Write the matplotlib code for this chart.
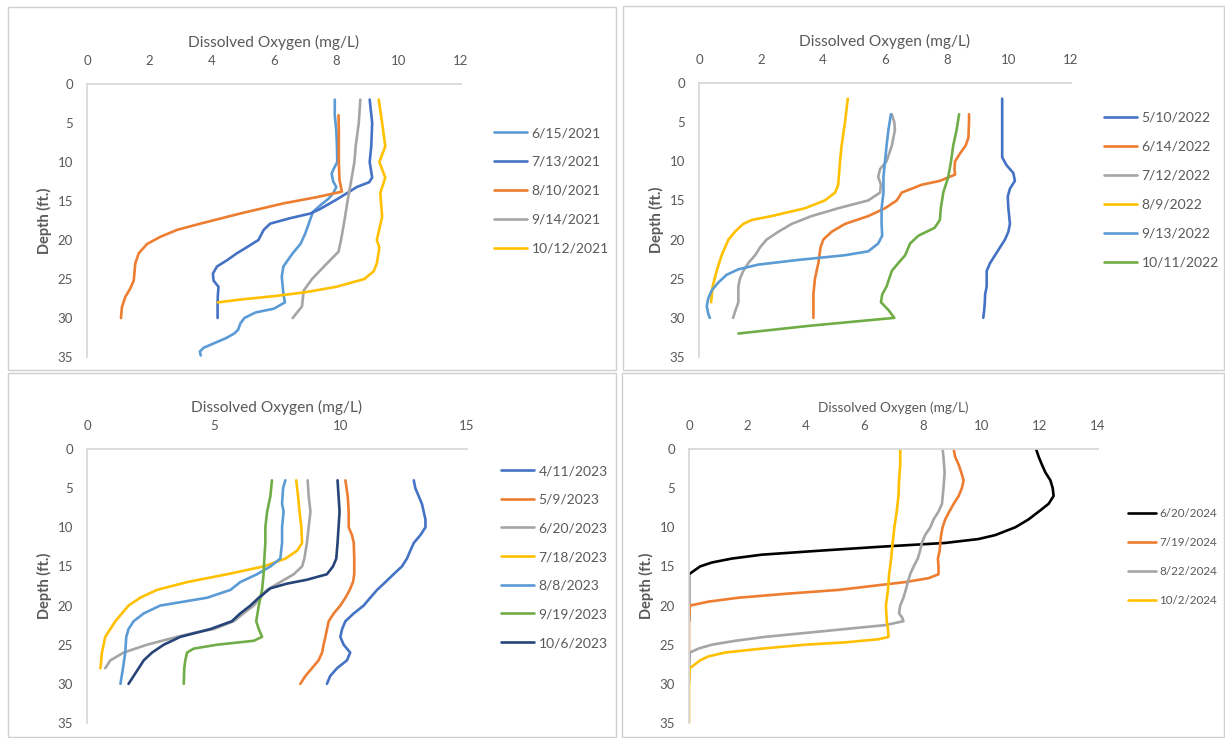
import matplotlib
matplotlib.use("Agg")
import matplotlib.pyplot as plt
from matplotlib.patches import Rectangle

plt.rcParams['font.family'] = ['Lato', 'DejaVu Sans']

# ---------------- DATA ----------------
labels_2021 = ["6/15/2021", "7/13/2021", "8/10/2021", "9/14/2021", "10/12/2021"]
depth_2021 = [
    [2, 4, 6, 8, 10, 11, 11.5, 12.5, 13.2, 14, 14.7, 15.5, 16.4, 17.5, 19.2, 20.5, 21.7, 23.4, 24.7, 26, 26.9,
     28, 28.8, 29.3, 30, 30.7, 31.5, 32, 32.6, 33.2, 33.8, 34.3, 34.8],
    [2, 5, 8, 10, 12, 12.6, 13.2, 14, 14.9, 16, 16.6, 17.2, 17.9, 18.7, 20, 21, 21.7, 22.6, 23.4, 24.3, 25.2, 26,
     27, 28, 29, 30],
    [4, 6, 8, 10, 12.3, 13.8, 14.5, 15.3, 16.6, 17.9, 18.7, 19.6, 20.5, 21.7, 23, 25.2, 26.2, 27.3, 28.6, 30],
    [2, 5, 8, 10, 13, 15, 18, 20, 21.5, 23, 25, 26.5, 28.5, 30],
    [2, 5, 8, 10, 12, 14, 17, 20, 21, 23, 24, 25, 26, 26.7, 27.2, 27.6, 28],
]
do_2021 = [
    [7.95, 7.95, 8.0, 8.02, 8.03, 7.9, 7.85, 7.9, 8.0, 7.9, 7.75, 7.5, 7.25, 7.15, 7.0, 6.85, 6.6, 6.3, 6.25, 6.28,
     6.3, 6.35, 6.0, 5.4, 5.05, 4.92, 4.85, 4.72, 4.45, 4.1, 3.75, 3.62, 3.65],
    [9.07, 9.15, 9.12, 9.07, 9.15, 9.05, 8.66, 8.34, 7.97, 7.49, 7.17, 6.52, 5.88, 5.67, 5.5, 5.1, 4.81, 4.49, 4.17,
     4.04, 4.06, 4.22, 4.2, 4.19, 4.19, 4.19],
    [8.07, 8.08, 8.08, 8.08, 8.1, 8.18, 7.38, 6.31, 4.92, 3.64, 2.89, 2.35, 1.93, 1.66, 1.55, 1.5, 1.39, 1.23, 1.12,
     1.09],
    [8.77, 8.72, 8.62, 8.58, 8.45, 8.36, 8.24, 8.15, 8.07, 7.7, 7.22, 6.95, 6.9, 6.6],
    [9.36, 9.47, 9.57, 9.38, 9.57, 9.41, 9.47, 9.3, 9.38, 9.3, 9.2, 8.9, 8.0, 7.0, 6.0, 5.0, 4.2],
]

labels_2022 = ["5/10/2022", "6/14/2022", "7/12/2022", "8/9/2022", "9/13/2022", "10/11/2022"]
depth_2022 = [
    [2, 5, 9.5, 10.5, 11.5, 12.5, 13.5, 14.5, 16, 18, 19, 20, 21, 22, 23, 24, 26, 27, 28, 29, 30],
    [4, 5, 7, 8, 9, 10, 11, 11.7, 12.5, 13, 14, 15, 16, 17, 18, 19, 20, 21, 23, 25, 27, 30],
    [4, 5, 6, 8, 10, 11, 12, 13, 14, 15, 16, 17, 18, 19, 20, 21, 22, 23, 24, 25, 26, 27, 28, 29, 30],
    [2, 5, 8, 10, 13, 14, 15, 16, 17, 17.5, 18, 19, 20, 22, 24, 26, 28],
    [4, 6, 8, 10, 12, 14, 16, 18, 19.5, 20.5, 21.5, 22, 22.6, 23.2, 23.8, 24.5, 25.5, 26.5, 27.5, 28.5, 29.5, 30],
    [4, 6, 8, 10, 12, 14, 16, 17.5, 18.5, 19.5, 20.5, 22, 23, 24, 26, 27, 28, 29, 30, 31, 32],
]
do_2022 = [
    [9.78, 9.78, 9.78, 9.92, 10.14, 10.19, 10.03, 9.96, 9.98, 10.03, 9.98, 9.87, 9.71, 9.55, 9.39, 9.28, 9.28, 9.23,
     9.22, 9.2, 9.17],
    [8.71, 8.71, 8.69, 8.6, 8.42, 8.26, 8.24, 8.26, 7.77, 7.18, 6.54, 6.38, 6.0, 5.46, 4.71, 4.28, 4.01, 3.92, 3.85,
     3.74, 3.69, 3.69],
    [6.22, 6.3, 6.32, 6.22, 6.05, 5.84, 5.78, 5.87, 5.84, 5.46, 4.49, 3.63, 2.99, 2.56, 2.18, 1.97, 1.81, 1.59, 1.43,
     1.32, 1.27, 1.27, 1.27, 1.18, 1.1],
    [4.8, 4.71, 4.6, 4.55, 4.49, 4.39, 4.06, 3.42, 2.34, 1.7, 1.43, 1.16, 0.95, 0.73, 0.57, 0.44, 0.39],
    [6.19, 6.11, 6.05, 6.0, 5.95, 5.95, 5.89, 5.89, 5.91, 5.78, 5.46, 4.71, 3.2, 1.91, 1.27, 0.89, 0.62, 0.41, 0.3,
     0.25, 0.3, 0.35],
    [8.39, 8.31, 8.2, 8.13, 8.04, 7.88, 7.8, 7.77, 7.6, 7.08, 6.81, 6.65, 6.43, 6.22, 6.05, 5.91, 5.87, 6.11, 6.3,
     3.6, 1.27],
]

labels_2023 = ["4/11/2023", "5/9/2023", "6/20/2023", "7/18/2023", "8/8/2023", "9/19/2023", "10/6/2023"]
depth_2023 = [
    [4, 5, 7, 9, 10, 11, 12, 13, 14, 15, 16, 17, 18, 19, 20, 21, 22, 23, 24, 25, 26, 27, 28, 29, 30],
    [4, 6, 8, 10, 11, 12, 14, 16, 17, 18, 19, 20, 21, 22, 24, 25, 26, 27, 28, 29, 30],
    [4, 6, 8, 10, 12, 14, 15, 16, 17, 18, 19, 20, 21, 22, 23, 23.5, 24, 25, 26, 27, 28],
    [4, 6, 8, 10, 12, 13, 14, 15, 16, 17, 18, 19, 20, 21, 22, 23, 24, 26, 28],
    [4, 5, 7, 8, 10, 12, 14, 15, 16, 17, 18, 19, 20, 21, 22, 23, 24, 26, 28, 30],
    [4, 6, 8, 10, 12, 14, 16, 18, 20, 22, 23, 24, 24.5, 25, 25.5, 26, 27, 28, 30],
    [4, 6, 8, 10, 12, 14, 15, 16, 16.7, 17.2, 17.8, 18.5, 19, 20, 21, 22, 23, 24, 25, 26, 27, 28, 29, 30],
]
do_2023 = [
    [12.9, 12.96, 13.22, 13.36, 13.36, 13.16, 12.9, 12.76, 12.63, 12.43, 12.1, 11.78, 11.45, 11.18, 10.92, 10.53,
     10.2, 10.07, 10.0, 10.13, 10.39, 10.26, 9.87, 9.6, 9.47],
    [10.2, 10.29, 10.33, 10.33, 10.46, 10.53, 10.55, 10.55, 10.5, 10.37, 10.2, 10.0, 9.74, 9.54, 9.41, 9.34, 9.28,
     9.14, 8.88, 8.62, 8.42],
    [8.71, 8.75, 8.82, 8.75, 8.68, 8.58, 8.49, 8.16, 7.63, 7.1, 6.84, 6.58, 6.18, 5.79, 5.0, 4.21, 3.55, 2.37, 1.45,
     0.92, 0.72],
    [8.26, 8.33, 8.39, 8.46, 8.49, 8.29, 7.83, 6.97, 5.53, 3.95, 2.76, 2.1, 1.64, 1.38, 1.12, 0.92, 0.72, 0.59, 0.53],
    [7.83, 7.74, 7.7, 7.76, 7.7, 7.7, 7.63, 7.24, 6.71, 6.05, 5.66, 4.74, 2.89, 2.24, 1.84, 1.64, 1.55, 1.51, 1.42,
     1.32],
    [7.3, 7.24, 7.11, 7.04, 7.04, 7.0, 6.97, 6.91, 6.78, 6.68, 6.78, 6.91, 6.58, 5.13, 4.21, 3.95, 3.88, 3.84, 3.82],
    [9.89, 9.93, 9.97, 9.93, 9.89, 9.84, 9.71, 9.47, 8.68, 7.89, 7.24, 6.97, 6.78, 6.45, 6.05, 5.72, 4.87, 3.68,
     3.03, 2.57, 2.24, 2.04, 1.84, 1.64],
]

labels_2024 = ["6/20/2024", "7/19/2024", "8/22/2024", "10/2/2024"]
depth_2024 = [
    [0, 1, 2, 3, 4, 5, 6, 7, 8, 9, 10, 11, 11.5, 12, 12.5, 13, 13.5, 14, 14.5, 15, 16, 17, 18, 19, 20, 21, 22],
    [0, 1, 2, 3, 4, 5, 6, 7, 8, 9, 10, 11, 12, 13, 14, 15, 16, 16.5, 17, 17.5, 18, 18.5, 19, 19.5, 20, 22, 24, 26,
     28],
    [0, 1, 3, 5, 7, 8, 9, 10, 11, 12, 13, 14, 15, 16, 17, 18, 19, 20, 21, 21.5, 22, 22.5, 23, 23.5, 24, 24.5, 25,
     25.5, 26, 28, 30],
    [0, 2, 4, 6, 8, 10, 12, 14, 16, 18, 20, 22, 23, 24, 24.3, 24.7, 25, 25.5, 26, 26.5, 27, 28, 30, 32, 35],
]
do_2024 = [
    [11.88, 11.97, 12.08, 12.2, 12.37, 12.45, 12.48, 12.31, 11.97, 11.62, 11.17, 10.48, 9.91, 8.77, 6.49, 4.43, 2.49,
     1.46, 0.78, 0.38, 0, 0, 0, 0, 0, 0, 0],
    [9.06, 9.11, 9.23, 9.32, 9.4, 9.34, 9.23, 9.06, 8.91, 8.77, 8.68, 8.63, 8.6, 8.58, 8.52, 8.54, 8.54, 8.2, 7.4,
     6.26, 5.12, 3.29, 1.69, 0.66, 0.03, 0, 0, 0, 0],
    [8.68, 8.71, 8.75, 8.71, 8.66, 8.54, 8.37, 8.26, 8.08, 7.97, 7.91, 7.83, 7.69, 7.57, 7.49, 7.42, 7.34, 7.23, 7.19,
     7.29, 7.34, 6.71, 5.34, 3.97, 2.6, 1.58, 0.78, 0.32, 0.03, 0, 0],
    [7.23, 7.23, 7.19, 7.17, 7.11, 7.03, 6.97, 6.92, 6.85, 6.81, 6.74, 6.77, 6.81, 6.83, 6.49, 5.34, 3.97, 2.49,
     1.23, 0.66, 0.38, 0.03, 0, 0, 0],
]

xticks_2021 = [0, 2, 4, 6, 8, 10, 12]
xticks_2022 = [0, 2, 4, 6, 8, 10, 12]
xticks_2023 = [0, 5, 10, 15]
xticks_2024 = [0, 2, 4, 6, 8, 10, 12, 14]
yticks = [0, 5, 10, 15, 20, 25, 30, 35]

# ---------------- STYLE ----------------
BLUE, ORANGE, GRAY, YELLOW, LBLUE, GREEN, DBLUE = (
    "#4472C4", "#ED7D31", "#A5A5A5", "#FFC000", "#5B9BD5", "#70AD47", "#264478")
colors_2021 = [LBLUE, BLUE, ORANGE, GRAY, YELLOW]
colors_2022 = [BLUE, ORANGE, GRAY, YELLOW, LBLUE, GREEN]
colors_2023 = [BLUE, ORANGE, GRAY, YELLOW, LBLUE, GREEN, DBLUE]
colors_2024 = ["#000000", ORANGE, GRAY, YELLOW]

W, H = 1225, 738
fig = plt.figure(figsize=(W / 100, H / 100), dpi=100)
fig.patch.set_facecolor("white")

TXT = "#595959"
AXC = "#D9D9D9"

# panel frames (pixel coords from top-left)
for (x0, y0, x1, y1) in [(8, 7, 616, 370), (623, 6, 1224, 370), (8, 373, 616, 737), (622, 373, 1224, 737)]:
    fig.patches.append(Rectangle((x0 / W, 1 - y1 / H), (x1 - x0) / W, (y1 - y0) / H,
                                 transform=fig.transFigure, fill=False, edgecolor="#D0D0D0", lw=1.0))


def make_panel(rect_px, xmax, xticks, labels, depths, dos, colors, leg_px, title_fs, leg_fs, leg_sp):
    x0, y0, x1, y1 = rect_px
    ax = fig.add_axes([x0 / W, 1 - y1 / H, (x1 - x0) / W, (y1 - y0) / H])
    ax.set_facecolor("none")
    for d, v, c, lab in zip(depths, dos, colors, labels):
        ax.plot(v, d, color=c, lw=1.9, label=lab, solid_capstyle="round", solid_joinstyle="round")
    ax.set_xlim(0, xmax)
    ax.set_ylim(35, 0)
    ax.set_xticks(xticks)
    ax.set_yticks(yticks)
    ax.xaxis.tick_top()
    ax.xaxis.set_label_position("top")
    for s in ("bottom", "right"):
        ax.spines[s].set_visible(False)
    for s in ("top", "left"):
        ax.spines[s].set_color(AXC)
        ax.spines[s].set_linewidth(1.3)
    ax.tick_params(axis="both", length=0, labelsize=9.5, labelcolor=TXT)
    ax.tick_params(axis="x", pad=12)
    ax.tick_params(axis="y", pad=10)
    ax.set_xlabel("Dissolved Oxygen (mg/L)", fontsize=title_fs, color=TXT, labelpad=6)
    ax.set_ylabel("Depth (ft.)", fontsize=10.5, color=TXT, fontweight="bold", labelpad=4)
    lx, ly = leg_px
    ax.legend(loc="upper left", bbox_to_anchor=(lx / W, 1 - ly / H), bbox_transform=fig.transFigure,
              frameon=False, fontsize=leg_fs, labelcolor=TXT, handlelength=2.4, handletextpad=0.3,
              labelspacing=leg_sp, borderpad=0, borderaxespad=0)
    return ax


make_panel((87, 84, 461, 357), 12, xticks_2021, labels_2021, depth_2021, do_2021, colors_2021, (494, 127),
           11.2, 10, 1.22)
make_panel((699, 83, 1071, 357), 12, xticks_2022, labels_2022, depth_2022, do_2022, colors_2022, (1104, 112),
           11.2, 10, 1.22)
make_panel((87, 449, 467, 723), 15, xticks_2023, labels_2023, depth_2023, do_2023, colors_2023, (501, 465),
           11.2, 10, 1.2)
make_panel((689, 449, 1098, 723), 14, xticks_2024, labels_2024, depth_2024, do_2024, colors_2024, (1128, 508),
           9.8, 8.4, 1.55)

fig.savefig("out.png", dpi=100, facecolor="white")
